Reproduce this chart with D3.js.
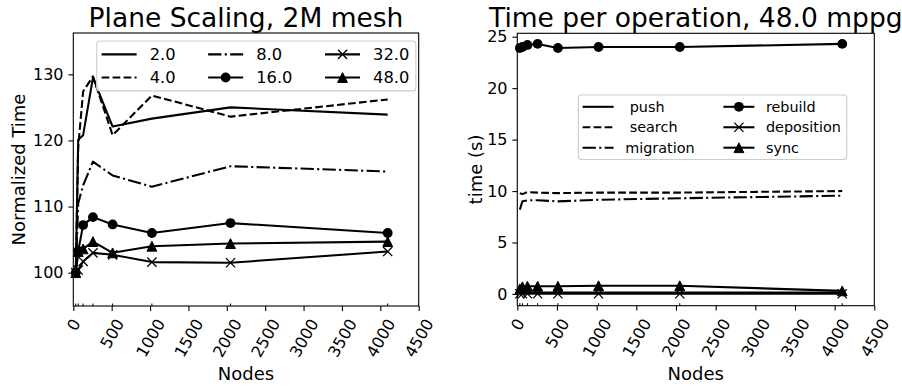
<!DOCTYPE html>
<html>
<head>
<meta charset="utf-8">
<script src="https://cdn.jsdelivr.net/npm/d3@7"></script>
<style>
  body { margin: 0; background: #fff; }
  svg { display: block; font-family: "DejaVu Sans", sans-serif; }
</style>
</head>
<body>
<script>
// node counts (x values, both panels)
var nodes = [32, 64, 128, 256, 512, 1024, 2048, 4096];
var xTicks = [0, 500, 1000, 1500, 2000, 2500, 3000, 3500, 4000, 4500];

// left panel: normalized time per mppg setting
var scaleLabels = ["2.0", "4.0", "8.0", "16.0", "32.0", "48.0"];
var norm2  = [100, 120.1, 120.8, 129.5, 122.1, 123.3, 125.0, 123.9];
var norm4  = [100, 119.0, 127.4, 129.7, 120.8, 126.8, 123.6, 126.2];
var norm8  = [100, 110.5, 113.2, 116.8, 114.7, 113.0, 116.1, 115.3];
var norm16 = [100, 103.3, 107.2, 108.4, 107.3, 106.0, 107.5, 106.0];
var norm32 = [100, 100.4, 101.7, 103.0, 102.7, 101.6, 101.5, 103.2];
var norm48 = [100, 103.2, 103.6, 104.7, 103.0, 104.0, 104.4, 104.7];
var normTicks = [100, 110, 120, 130];

// right panel: seconds per operation at 48.0 mppg
var opLabels = [" push", " search", "migration", "rebuild", "deposition", "sync"];
var tPush       = [0.15, 0.15, 0.14, 0.14, 0.14, 0.14, 0.14, 0.15];
var tSearch     = [9.8, 9.7, 9.9, 9.85, 9.8, 9.85, 9.85, 10.0];
var tMigration  = [8.2, 9.0, 9.1, 9.1, 9.0, 9.15, 9.3, 9.55];
var tRebuild    = [23.9, 24.0, 24.2, 24.3, 23.9, 24.0, 24.0, 24.3];
var tDeposition = [0.02, 0.02, 0.02, 0.02, 0.02, 0.02, 0.02, 0.02];
var tSync       = [0.5, 0.7, 0.75, 0.75, 0.75, 0.8, 0.8, 0.3];
var timeTicks = [0, 5, 10, 15, 20, 25];

// line styles, same order in both panels
var lw = 2.08;
var styles = [
  {dash: null, marker: null},
  {dash: "7.7,3.3", marker: null},
  {dash: "13.3,3.3,2.1,3.3", marker: null},
  {dash: null, marker: "o"},
  {dash: null, marker: "x"},
  {dash: null, marker: "^"}
];

var svg = d3.select("body").append("svg")
    .attr("width", 902)
    .attr("height", 386);

function drawMarker(g, type, cx, cy) {
  if (type == "o") {
    g.append("circle").attr("cx", cx).attr("cy", cy).attr("r", 4.9).attr("fill", "#000");
  } else if (type == "^") {
    var r = 4.9;
    g.append("path")
      .attr("d", `M${cx},${cy - r}L${cx + r},${cy + r}L${cx - r},${cy + r}Z`)
      .attr("fill", "#000").attr("stroke", "#000").attr("stroke-width", 1);
  } else if (type == "x") {
    var h = 4.6;
    g.append("path")
      .attr("d", `M${cx - h},${cy - h}L${cx + h},${cy + h}M${cx - h},${cy + h}L${cx + h},${cy - h}`)
      .attr("fill", "none").attr("stroke", "#000").attr("stroke-width", 1.3);
  }
}

function panel(o) {
  var x = d3.scaleLinear([0, 4500], [o.x0, o.x1]);
  var y = d3.scaleLinear(o.yDomain, [o.y1, o.y0]);
  var g = svg.append("g");

  // data lines
  var line = d3.line().x((d, i) => x(nodes[i])).y(d => y(d));
  o.series.forEach(function(s, k) {
    var st = styles[k];
    g.append("path")
      .attr("d", line(s))
      .attr("fill", "none")
      .attr("stroke", "#000")
      .attr("stroke-width", lw)
      .attr("stroke-linejoin", "round")
      .attr("stroke-dasharray", st.dash);
    if (st.marker) s.forEach((v, i) => drawMarker(g, st.marker, x(nodes[i]), y(v)));
  });

  // frame
  g.append("rect")
    .attr("x", o.x0).attr("y", o.y0)
    .attr("width", o.x1 - o.x0).attr("height", o.y1 - o.y0)
    .attr("fill", "none").attr("stroke", "#000").attr("stroke-width", 1.1);

  // x axis
  var xa = g.append("g").attr("transform", `translate(0,${o.y1})`)
    .call(d3.axisBottom(x).tickValues(xTicks).tickSize(4.9).tickPadding(4.9).tickFormat(d3.format("d")));
  xa.select(".domain").remove();
  xa.selectAll(".tick line").attr("stroke-width", 1.1);
  var ang = 60 * Math.PI / 180;
  xa.selectAll(".tick text")
    .attr("font-size", 16).attr("font-family", "DejaVu Sans").attr("fill", "#000")
    .attr("text-anchor", "middle").attr("dominant-baseline", "central").attr("y", null).attr("dy", null)
    .each(function() {
      var w = this.getComputedTextLength();
      var bh = w * Math.sin(ang) + 18.6 * Math.cos(ang);
      d3.select(this).attr("transform", `translate(0,${9.8 + bh / 2}) rotate(-60)`);
    });
  // small inner marks at the node counts
  g.append("g").selectAll("line").data(nodes).join("line")
    .attr("x1", d => x(d)).attr("x2", d => x(d))
    .attr("y1", o.y1).attr("y2", o.y1 - 2.5)
    .attr("stroke", "#000").attr("stroke-width", 1);

  // y axis
  var ya = g.append("g").attr("transform", `translate(${o.x0},0)`)
    .call(d3.axisLeft(y).tickValues(o.yTicks).tickSize(4.9).tickPadding(4.9));
  ya.select(".domain").remove();
  ya.selectAll(".tick line").attr("stroke-width", 1.1);
  ya.selectAll(".tick text").attr("font-size", 16).attr("font-family", "DejaVu Sans").attr("fill", "#000");

  // labels
  var cx = (o.x0 + o.x1) / 2;
  g.append("text").attr("x", cx).attr("y", 27).attr("text-anchor", "middle")
    .attr("font-size", 26.5).text(o.title);
  g.append("text").attr("x", cx).attr("y", 373).attr("text-anchor", "middle")
    .attr("dominant-baseline", "central").attr("font-size", 18).text("Nodes");
  g.append("text").attr("transform", `translate(${o.ylabelX},${(o.y0 + o.y1) / 2}) rotate(-90)`)
    .attr("text-anchor", "middle").attr("dominant-baseline", "central")
    .attr("font-size", 18).text(o.ylabel);

  // legend, filled column by column
  var L = o.legend, fs = L.fs;
  var lg = g.append("g");
  var box = lg.append("rect").attr("rx", 3).attr("fill", "#fff").attr("fill-opacity", 0.8)
    .attr("stroke", "#ccc").attr("stroke-width", 1.1);
  var colX = L.x + 0.3 * fs, right = colX;
  for (var c = 0; c < o.labels.length / L.rows; c++) {
    var maxW = 0;
    for (var r = 0; r < L.rows; r++) {
      var k = c * L.rows + r, ry = L.y + 0.82 * fs + r * 1.42 * fs;
      var st = styles[k];
      lg.append("line").attr("x1", colX).attr("x2", colX + L.hl)
        .attr("y1", ry).attr("y2", ry).attr("stroke", "#000").attr("stroke-width", lw)
        .attr("stroke-dasharray", st.dash);
      if (st.marker) drawMarker(lg, st.marker, colX + L.hl / 2, ry);
      var t = lg.append("text").attr("x", colX + L.hl + 0.8 * fs).attr("y", ry)
        .attr("dominant-baseline", "central").attr("font-size", fs)
        .attr("xml:space", "preserve").style("white-space", "pre").text(o.labels[k]);
      maxW = Math.max(maxW, t.node().getComputedTextLength());
    }
    right = colX + L.hl + 0.8 * fs + maxW;
    colX = right + 2 * fs;
  }
  box.attr("x", L.x).attr("y", L.y)
    .attr("width", right + 0.4 * fs - L.x)
    .attr("height", 1.64 * fs + (L.rows - 1) * 1.42 * fs);
}

panel({
  x0: 73.3, x1: 418.7, y0: 33, y1: 306,
  yDomain: [94.96, 136.25], yTicks: normTicks,
  series: [norm2, norm4, norm8, norm16, norm32, norm48],
  labels: scaleLabels,
  title: "Plane Scaling, 2M mesh", ylabel: "Normalized Time", ylabelX: 18,
  legend: {x: 96.7, y: 41, fs: 16.3, rows: 2, hl: 35}
});

panel({
  x0: 517.3, x1: 874.3, y0: 33.3, y1: 305.7,
  yDomain: [-1.14, 25.33], yTicks: timeTicks,
  series: [tPush, tSearch, tMigration, tRebuild, tDeposition, tSync],
  labels: opLabels,
  title: "Time per operation, 48.0 mppg", ylabel: "time (s)", ylabelX: 475,
  legend: {x: 578.3, y: 95, fs: 14.4, rows: 3, hl: 31}
});
</script>
</body>
</html>
